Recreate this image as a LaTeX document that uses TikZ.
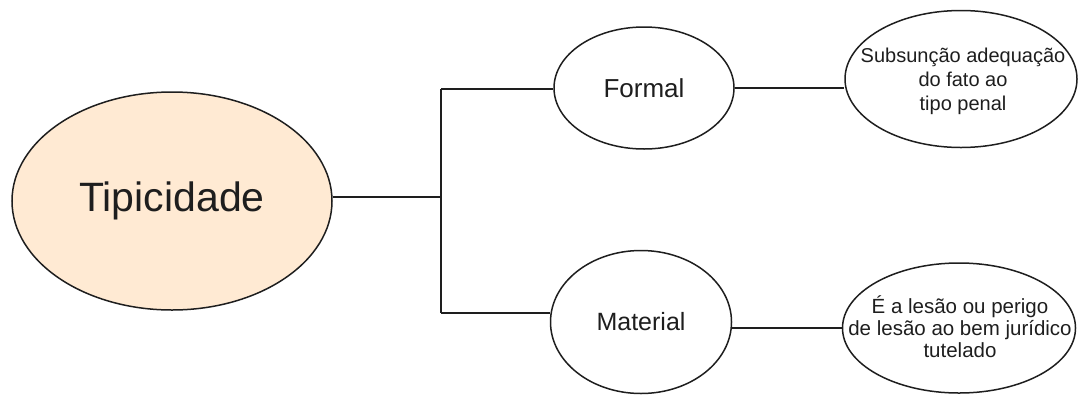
\documentclass[tikz,border=0pt]{standalone}
\usepackage{fontspec}
\setmainfont{Liberation Sans}
\usetikzlibrary{shapes.geometric}
\definecolor{ink}{HTML}{1E1E1E}
\definecolor{peach}{HTML}{FFEAD3}
\tikzset{
  oval/.style={ellipse, draw=ink, line width=1.5pt, inner sep=0pt},
  txt/.style={text=ink, align=center, inner sep=0pt},
  link/.style={draw=ink, line width=1.3pt},
}
\begin{document}
\begin{tikzpicture}[x=1pt, y=-1pt]
\useasboundingbox (0,0) rectangle (1078,394);
\node[oval, fill=peach, minimum width=320pt, minimum height=218pt] (tip) at (172,201) {};
\node[txt, font=\fontsize{41}{48}\selectfont] (tipt) at (tip) {Tipicidade};
\node[oval, minimum width=180pt, minimum height=122pt] (formal) at (644,88) {};
\node[txt, font=\fontsize{26}{30}\selectfont] (formalt) at (formal) {Formal};
\node[oval, minimum width=181pt, minimum height=143pt] (material) at (641,322) {};
\node[txt, font=\fontsize{25}{30}\selectfont] (materialt) at (material) {Material};
\node[oval, minimum width=232pt, minimum height=137pt] (sub) at (961,79) {};
\node[txt, font=\fontsize{20}{24}\selectfont] (subt) at (963,81) {Subsunção adequação\\do fato ao\\tipo penal};
\node[oval, minimum width=233pt, minimum height=130pt] (lesao) at (959,328) {};
\node[txt, font=\fontsize{20.5}{22}\selectfont] (lesaot) at (960,327) {É a lesão ou perigo\\de lesão ao bem jurídico\\tutelado};
\coordinate (j) at (441,197);
\coordinate (jt) at (441,89);
\coordinate (jb) at (441,313);
\draw[link] (tip.east |- j) -- (j);
\draw[link] (jt) -- (jb);
\draw[link] (jt) -- (jt -| formal.west);
\draw[link] (jb) -- (jb -| material.west);
\draw[link] (formal.east) -- (formal.east -| sub.west);
\draw[link] (lesao.west -| material.east) -- (lesao.west);
\end{tikzpicture}
\end{document}
